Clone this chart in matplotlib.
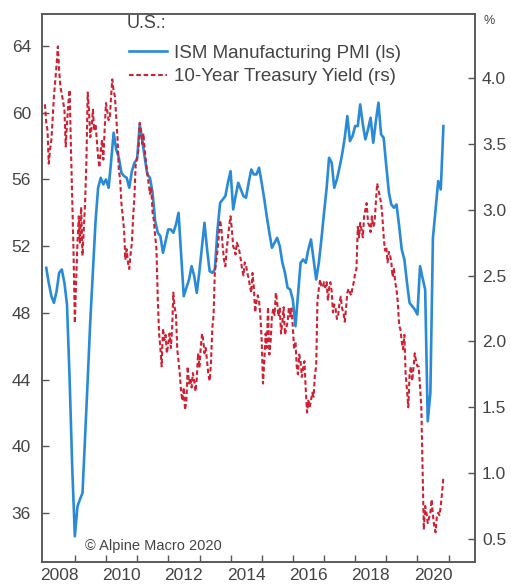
import matplotlib
matplotlib.use("Agg")
import matplotlib.pyplot as plt
import pandas as pd

# ISM Manufacturing PMI, monthly (left scale)
pmi_2008 = [50.7, 49.8, 49.0, 48.6, 49.3, 50.4, 50.6, 49.8, 48.5, 44.0, 38.8, 34.6]
pmi_2009 = [36.4, 36.8, 37.2, 40.5, 44.0, 47.5, 50.5, 53.5, 55.5, 56.1, 55.7, 56.0]
pmi_2010 = [55.5, 57.0, 58.8, 57.8, 57.3, 56.4, 56.2, 56.1, 55.5, 56.5, 57.0, 57.2]
pmi_2011 = [59.3, 58.4, 57.3, 56.3, 56.1, 55.2, 53.5, 52.8, 52.6, 51.6, 52.3, 53.0]
pmi_2012 = [53.0, 52.8, 53.3, 54.0, 51.5, 49.0, 49.5, 50.0, 50.8, 50.2, 49.2, 50.5]
pmi_2013 = [52.0, 53.4, 51.8, 50.5, 50.4, 50.6, 53.0, 54.6, 54.8, 55.0, 55.8, 56.5]
pmi_2014 = [54.2, 55.0, 55.8, 55.4, 55.0, 54.9, 55.8, 56.6, 56.3, 56.3, 56.7, 55.8]
pmi_2015 = [54.8, 53.8, 52.8, 51.9, 52.2, 52.5, 52.0, 51.0, 50.4, 49.5, 49.4, 48.8]
pmi_2016 = [47.2, 49.0, 51.0, 51.2, 51.0, 51.8, 52.4, 51.2, 50.0, 51.0, 52.4, 54.0]
pmi_2017 = [55.5, 57.3, 57.0, 55.5, 56.0, 56.7, 57.5, 58.5, 59.8, 58.3, 58.6, 59.2]
pmi_2018 = [59.2, 60.5, 59.3, 58.4, 59.0, 59.7, 58.2, 59.5, 60.6, 58.7, 58.5, 56.8]
pmi_2019 = [55.2, 54.5, 54.3, 54.5, 53.2, 51.8, 51.2, 49.8, 48.6, 48.4, 48.2, 47.9]
pmi_2020 = [50.8, 50.1, 49.4, 41.5, 43.2, 52.5, 54.2, 55.9, 55.4, 59.2]

# 10-year Treasury yield, mid-month and month-end (right scale, %)
ust_2008 = [3.80, 3.66, 3.60, 3.35, 3.45, 3.53, 3.70, 3.86, 3.98, 4.10, 4.24, 4.06,
            3.93, 3.88, 3.82, 3.76, 3.48, 3.65, 3.80, 3.91, 3.48, 3.10, 2.70, 2.14]
ust_2009 = [2.45, 2.75, 2.95, 2.75, 3.02, 2.65, 2.85, 3.05, 3.35, 3.89, 3.75, 3.55,
            3.62, 3.76, 3.60, 3.65, 3.53, 3.40, 3.32, 3.45, 3.53, 3.38, 3.60, 3.81]
ust_2010 = [3.75, 3.68, 3.70, 3.85, 3.99, 3.90, 3.86, 3.70, 3.55, 3.30, 3.23, 3.05,
            2.95, 2.85, 2.62, 2.70, 2.60, 2.55, 2.66, 2.75, 2.95, 3.10, 3.35, 3.40]
ust_2011 = [3.45, 3.66, 3.60, 3.50, 3.58, 3.45, 3.35, 3.28, 3.20, 3.12, 3.17, 2.98,
            2.92, 2.80, 2.70, 2.31, 2.06, 1.95, 1.81, 2.10, 2.01, 2.05, 1.91, 1.98]
ust_2012 = [2.06, 1.95, 2.10, 2.37, 2.26, 2.20, 1.94, 1.85, 1.75, 1.61, 1.55, 1.65,
            1.48, 1.55, 1.81, 1.68, 1.72, 1.65, 1.76, 1.70, 1.62, 1.72, 1.91, 1.80]
ust_2013 = [1.95, 2.06, 2.00, 1.91, 1.95, 1.85, 1.75, 1.70, 1.83, 2.10, 2.20, 2.54,
            2.60, 2.69, 2.80, 2.92, 2.85, 2.72, 2.62, 2.57, 2.70, 2.78, 2.88, 2.95]
ust_2014 = [2.85, 2.72, 2.70, 2.66, 2.75, 2.72, 2.68, 2.62, 2.55, 2.50, 2.60, 2.58,
            2.52, 2.48, 2.42, 2.37, 2.52, 2.41, 2.22, 2.30, 2.35, 2.31, 2.20, 2.01]
ust_2015 = [1.68, 1.85, 2.06, 1.95, 2.26, 1.90, 2.00, 2.19, 2.25, 2.20, 2.37, 2.30,
            2.19, 2.25, 2.06, 2.15, 2.26, 2.05, 2.10, 2.15, 2.26, 2.19, 2.25, 2.11]
ust_2016 = [1.94, 2.00, 1.81, 1.75, 1.90, 1.85, 1.73, 1.80, 1.85, 1.63, 1.46, 1.55,
            1.50, 1.55, 1.61, 1.58, 1.75, 1.81, 2.31, 2.40, 2.47, 2.42, 2.41, 2.45]
ust_2017 = [2.41, 2.45, 2.31, 2.40, 2.45, 2.38, 2.22, 2.28, 2.25, 2.17, 2.20, 2.29,
            2.34, 2.25, 2.22, 2.15, 2.25, 2.37, 2.40, 2.37, 2.35, 2.41, 2.45, 2.52]
ust_2018 = [2.55, 2.87, 2.79, 2.90, 2.85, 2.79, 2.95, 3.00, 3.05, 2.90, 2.88, 2.83,
            2.95, 2.87, 2.90, 3.05, 3.20, 3.15, 3.10, 3.05, 2.95, 2.80, 2.69, 2.72]
ust_2019 = [2.60, 2.68, 2.65, 2.60, 2.49, 2.55, 2.45, 2.39, 2.30, 2.12, 2.09, 2.00,
            1.94, 2.05, 1.75, 1.63, 1.50, 1.75, 1.81, 1.70, 1.80, 1.91, 1.85, 1.81]
ust_2020 = [1.81, 1.65, 1.50, 1.05, 0.57, 0.75, 0.70, 0.62, 0.66, 0.70,
            0.80, 0.68, 0.60, 0.55, 0.67, 0.70, 0.68, 0.75, 0.85, 0.97]

year_labels = list(range(2008, 2021))
left_ticks = [36, 40, 44, 48, 52, 56, 60, 64]
right_ticks = [0.5, 1.0, 1.5, 2.0, 2.5, 3.0, 3.5, 4.0]

pmi = (pmi_2008 + pmi_2009 + pmi_2010 + pmi_2011 + pmi_2012 + pmi_2013 + pmi_2014
       + pmi_2015 + pmi_2016 + pmi_2017 + pmi_2018 + pmi_2019 + pmi_2020)
ust = (ust_2008 + ust_2009 + ust_2010 + ust_2011 + ust_2012 + ust_2013 + ust_2014
       + ust_2015 + ust_2016 + ust_2017 + ust_2018 + ust_2019 + ust_2020)

month_start = pd.date_range("2008-01-01", periods=len(pmi), freq="MS")
pmi_dates = month_start + pd.offsets.MonthEnd(0)
ust_dates = []
for ms in month_start:
    ust_dates += [ms + pd.Timedelta(days=14), ms + pd.offsets.MonthEnd(0)]

BLUE = "#2b8ad6"
RED = "#cc2233"
GREY = "#444444"

plt.rcParams["font.family"] = ["Liberation Sans", "DejaVu Sans"]

fig = plt.figure(figsize=(5.11, 5.88), dpi=100)
ax = fig.add_axes([0.0822, 0.0442, 0.8473, 0.932])
ax2 = ax.twinx()

l1, = ax.plot(pmi_dates, pmi, color=BLUE, lw=1.9, label="ISM Manufacturing PMI (ls)")
l2, = ax2.plot(ust_dates, ust, color=RED, lw=1.5, dashes=(2.2, 1.3),
               label="10-Year Treasury Yield (rs)")

ax.set_ylim(33.06, 65.92)
ax2.set_ylim(0.325, 4.486)
ax.set_xlim(pd.Timestamp("2007-12-12"), pd.Timestamp("2021-11-05"))

ax.set_yticks(left_ticks)
ax.set_yticklabels([str(v) for v in left_ticks])
ax2.set_yticks(right_ticks)
ax2.set_yticklabels([f"{v:.1f}" for v in right_ticks])

# ticks at year boundaries, labels centred on every other year
ax.set_xticks([pd.Timestamp(f"{y + 1}-01-01") for y in year_labels])
ax.set_xticklabels([])
ax.set_xticks([pd.Timestamp(f"{y}-07-01") for y in year_labels if y % 2 == 0], minor=True)
ax.set_xticklabels([str(y) for y in year_labels if y % 2 == 0], minor=True)

for a in (ax, ax2):
    for s in a.spines.values():
        s.set_color("#555555")
        s.set_linewidth(1.1)
    a.tick_params(axis="both", which="major", direction="in", length=5, width=1,
                  color="#555555", labelsize=12.5, labelcolor=GREY)
ax.tick_params(axis="x", which="minor", length=0, labelsize=12.5, labelcolor=GREY, pad=4)
ax.tick_params(axis="y", pad=8)
ax2.tick_params(axis="y", pad=5)

fig.text(0.958, 0.964, "%", fontsize=9, color=GREY, ha="center", va="center")
ax.text(0.1, 0.03, "\u00a9 Alpine Macro 2020", transform=ax.transAxes,
        fontsize=10.5, color=GREY, ha="left", va="center")

ax.text(0.196, 0.982, "U.S.:", transform=ax.transAxes, fontsize=13,
        color=GREY, ha="left", va="center")
leg = ax.legend([l1, l2], [l1.get_label(), l2.get_label()],
                loc="upper left", bbox_to_anchor=(0.176, 0.965), frameon=False,
                fontsize=13.5, handlelength=2.0, handletextpad=0.35,
                labelspacing=0.35, borderpad=0.1)
for t in leg.get_texts():
    t.set_color(GREY)

fig.savefig("out.png", dpi=100)
